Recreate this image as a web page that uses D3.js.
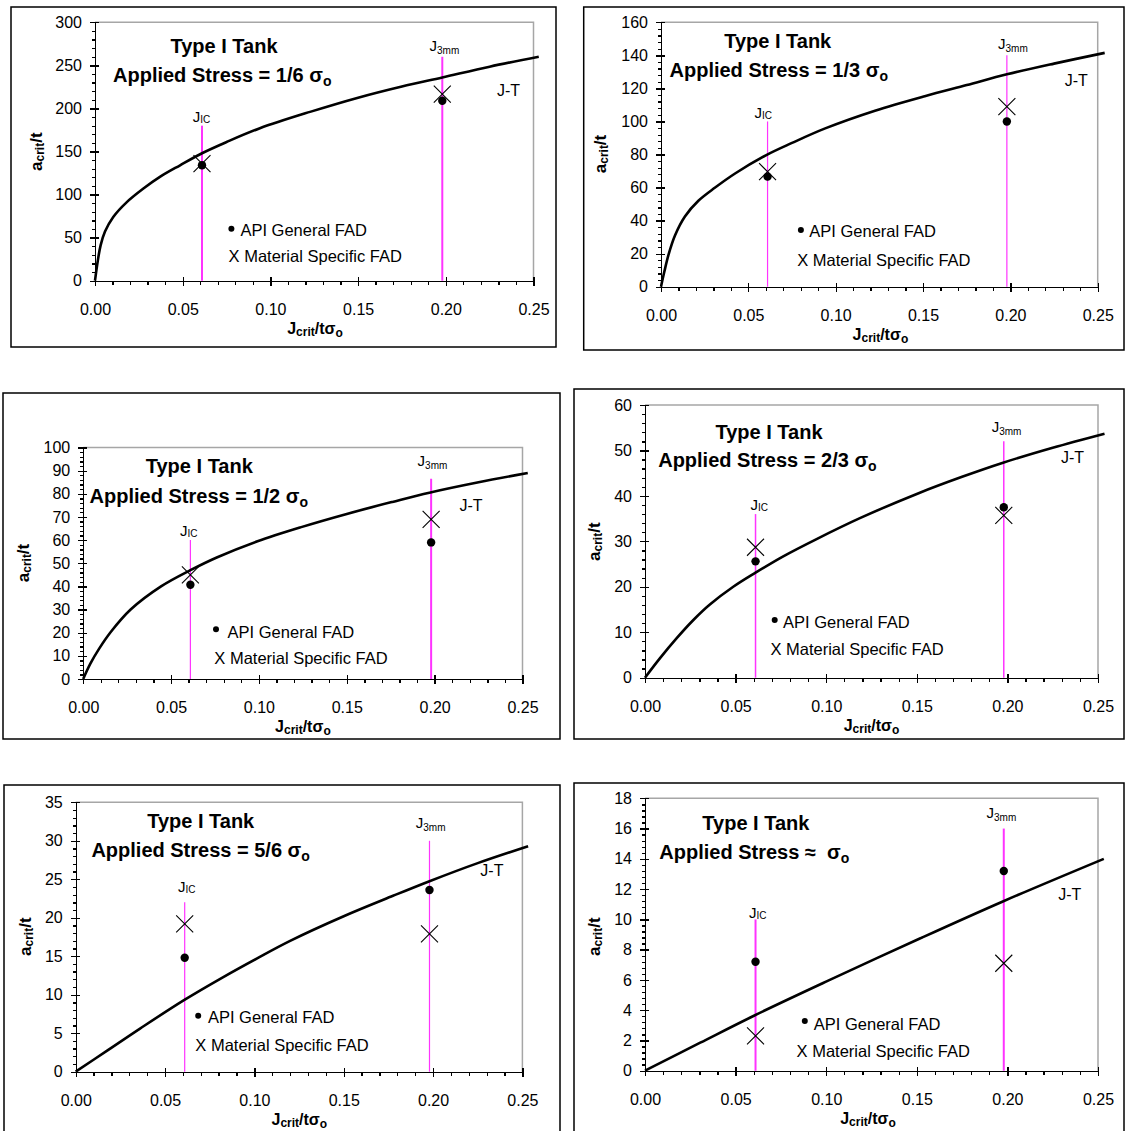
<!DOCTYPE html>
<html>
<head>
<meta charset="utf-8">
<script src="https://cdnjs.cloudflare.com/ajax/libs/d3/7.8.5/d3.min.js"></script>
<style>
  body { margin: 0; background: #ffffff; }
  text { font-family: "Liberation Sans", Arial, sans-serif; fill: #000; }
  .axis path, .axis line { stroke: #000; stroke-width: 1.3; shape-rendering: crispEdges; }
  .axis text { font-size: 16px; }
</style>
</head>
<body>
<svg id="chart" width="1125" height="1131"></svg>
<script>
// ---- data ----
var stressLabels = ["= 1/6 ", "= 1/3 ", "= 1/2 ", "= 2/3 ", "= 5/6 ", "\u2248  "];
var yMax   = [300, 160, 100, 60, 35, 18];
var yMajor = [50, 20, 10, 10, 5, 2];
var yMinor = [10, 4, 2, 2, 1, 0.4];
var xTicks = [0, 0.05, 0.10, 0.15, 0.20, 0.25];

var jicX = 0.061, j3mmX = 0.198;
var jicTop  = [180, 100, 60, 36, 22, 10];
var j3mmTop = [260, 140, 86.5, 52, 30, 16];

// [at J_IC, at J_3mm]
var apiGeneral       = [[134, 209], [66.6, 100], [40.7, 59], [25.6, 37.5], [14.8, 23.6], [7.2, 13.2]];
var materialSpecific = [[136, 216.5], [69.6, 109], [45, 69], [28.7, 35.7], [19.2, 17.9], [2.3, 7.1]];

// J-T curves [J/t sigma, a/t]
var jtCurve1 = [[0,0],[0.0015,22],[0.0032,41],[0.0057,57],[0.0104,74],[0.018,91],[0.0276,107],[0.037,120.5],[0.0485,134],[0.061,148],[0.075,161],[0.094,177],[0.1226,196],[0.15,212.5],[0.175,225.5],[0.198,236],[0.225,248.5],[0.253,260]];
var jtCurve2 = [[0,0],[0.0019,9],[0.0042,19],[0.008,31],[0.0137,42.5],[0.0214,52],[0.031,60],[0.0424,68.5],[0.06,79.5],[0.075,87],[0.094,95.8],[0.1225,106.5],[0.151,115.3],[0.175,122],[0.198,128.5],[0.225,135],[0.254,141.5]];
var jtCurve3 = [[0,0],[0.004,6.5],[0.009,13],[0.0159,20.5],[0.027,30],[0.0443,40],[0.061,47],[0.076,52.5],[0.0992,59.5],[0.1236,65.5],[0.15,71.3],[0.176,76.5],[0.197,80.5],[0.225,85],[0.253,89]];
var jtCurve4 = [[0,0],[0.0083,4.3],[0.0175,8.7],[0.0267,12.7],[0.0358,16.1],[0.0487,20],[0.061,23.1],[0.0763,26.7],[0.0947,30.5],[0.1186,35.1],[0.151,40.6],[0.175,44.2],[0.1976,47.3],[0.225,50.6],[0.2536,53.7]];
var jtCurve5 = [[0,0],[0.0174,2.7],[0.036,5.6],[0.0606,9.3],[0.0826,12.3],[0.1013,14.7],[0.12,17.0],[0.15,20.2],[0.1776,22.85],[0.198,24.75],[0.225,27.1],[0.2532,29.3]];
var jtCurve6 = [[0,0],[0.0305,1.85],[0.0604,3.65],[0.1002,5.9],[0.152,8.75],[0.1978,11.2],[0.2532,14.0]];
var jtCurves = [jtCurve1, jtCurve2, jtCurve3, jtCurve4, jtCurve5, jtCurve6];

// ---- page layout (pixels) ----
var layout = [
  {frame:[11,7,556,347], plot:[95,22.3,533.5,280.7], title:[224,52.7], stress:[113,81.7], jic:[192.7,121.7], j3mm:[429.5,51], jt:[497,96], dot:[231.4,228.7], api:[240.4,236], mat:[228.6,261.7], ylab:[36,151.7], xlab:315, lw:[2,2]},
  {frame:[583.7,7,1124,350], plot:[661,22.3,1097.7,286.7], title:[777.7,48.3], stress:[669.5,77.3], jic:[754.5,118], j3mm:[998,48.5], jt:[1064.7,86], dot:[800.9,230], api:[809.3,237.3], mat:[797.2,265.7], ylab:[600,154], xlab:880.4, lw:[1.2,1.2]},
  {frame:[3,393,560,739], plot:[83.2,447.5,522.5,679], title:[199.3,473.3], stress:[89.6,502.7], jic:[180,535.7], j3mm:[417.6,466], jt:[459.5,510.7], dot:[216,629.3], api:[227.6,637.7], mat:[214.3,664], ylab:[23.3,563], xlab:302.9, lw:[1.2,2]},
  {frame:[574,389,1124,739], plot:[645,405,1098,677.7], title:[769,439], stress:[658.2,467.3], jic:[750.6,510], j3mm:[991.7,432], jt:[1061,463.3], dot:[774.7,620], api:[783,628.3], mat:[770.4,655], ylab:[594,541.7], xlab:871.5, lw:[1.5,1.5]},
  {frame:[4,785,560,1140], plot:[75.7,802.3,522.4,1071.7], title:[200.7,828.3], stress:[91.4,856.7], jic:[178,892.3], j3mm:[415.8,828], jt:[480.3,876], dot:[198.2,1015.7], api:[207.9,1023.3], mat:[195.3,1050.7], ylab:[25,936.7], xlab:299.3, lw:[1.2,1.2]},
  {frame:[574,783,1124,1140], plot:[645,798.3,1098,1070.7], title:[755.9,830], stress:[659.3,859.3], jic:[748.9,918.3], j3mm:[986.5,818], jt:[1058.2,900], dot:[804.8,1021], api:[813.8,1030], mat:[796.6,1056.7], ylab:[594,936.7], xlab:868, lw:[2,2]}
];

var svg = d3.select("#chart");
var magenta = "#ff33ff";

function range(step, max) {
  var out = [];
  for (var k = 0; k * step <= max + 1e-9; k++) out.push(+(k * step).toFixed(4));
  return out;
}

function drawPanel(i) {
  var L = layout[i];
  var g = svg.append("g");

  g.append("rect")
    .attr("x", L.frame[0]).attr("y", L.frame[1])
    .attr("width", L.frame[2] - L.frame[0]).attr("height", L.frame[3] - L.frame[1])
    .attr("fill", "#fff").attr("stroke", "#000").attr("stroke-width", 1.5);

  var x = d3.scaleLinear().domain([0, 0.25]).range([L.plot[0], L.plot[2]]);
  var y = d3.scaleLinear().domain([0, yMax[i]]).range([L.plot[3], L.plot[1]]);

  // plot area border (top + right)
  g.append("path")
    .attr("d", "M" + x(0) + "," + y(yMax[i]) + "H" + x(0.25) + "V" + y(0))
    .attr("fill", "none").attr("stroke", "#a6a6a6").attr("stroke-width", 1.5);

  // x axis
  var xMinor = range(0.01, 0.25);
  g.append("g").attr("class", "axis").attr("transform", "translate(0," + y(0) + ")")
    .call(d3.axisBottom(x).tickValues(xMinor).tickSize(4).tickFormat(""));
  g.append("g").attr("class", "axis").attr("transform", "translate(0," + y(0) + ")")
    .call(d3.axisTop(x).tickValues(xTicks).tickSize(4).tickFormat(""));
  g.append("g").attr("class", "axis").attr("transform", "translate(0," + y(0) + ")")
    .call(d3.axisBottom(x).tickValues(xTicks).tickSize(5).tickPadding(18).tickFormat(d3.format(".2f")));

  // y axis
  g.append("g").attr("class", "axis").attr("transform", "translate(" + x(0) + ",0)")
    .call(d3.axisLeft(y).tickValues(range(yMinor[i], yMax[i])).tickSize(3).tickFormat(""));
  g.append("g").attr("class", "axis").attr("transform", "translate(" + x(0) + ",0)")
    .call(d3.axisRight(y).tickValues(range(yMajor[i], yMax[i])).tickSize(4).tickFormat(""));
  g.append("g").attr("class", "axis").attr("transform", "translate(" + x(0) + ",0)")
    .call(d3.axisLeft(y).tickValues(range(yMajor[i], yMax[i])).tickSize(5).tickPadding(8).tickFormat(d3.format("d")));

  // J_IC and J_3mm lines
  g.append("line").attr("x1", x(jicX)).attr("x2", x(jicX)).attr("y1", y(0)).attr("y2", y(jicTop[i]))
    .attr("stroke", magenta).attr("stroke-width", L.lw[0]);
  g.append("line").attr("x1", x(j3mmX)).attr("x2", x(j3mmX)).attr("y1", y(0)).attr("y2", y(j3mmTop[i]))
    .attr("stroke", magenta).attr("stroke-width", L.lw[1]);

  // J-T curve
  var line = d3.line().x(function (d) { return x(d[0]); }).y(function (d) { return y(d[1]); })
    .curve(d3.curveCatmullRom.alpha(0.5));
  g.append("path").datum(jtCurves[i]).attr("d", line)
    .attr("fill", "none").attr("stroke", "#000").attr("stroke-width", 2.6)
    .attr("stroke-linejoin", "round");

  // markers
  var xs = [jicX, j3mmX];
  xs.forEach(function (xv, k) {
    var cx = x(xv), cy = y(materialSpecific[i][k]), s = 8.5;
    g.append("path").attr("d", "M" + (cx - s) + "," + (cy - s) + "L" + (cx + s) + "," + (cy + s) +
        "M" + (cx - s) + "," + (cy + s) + "L" + (cx + s) + "," + (cy - s))
      .attr("stroke", "#000").attr("stroke-width", 1.1).attr("fill", "none");
    g.append("circle").attr("cx", cx).attr("cy", y(apiGeneral[i][k])).attr("r", 4.2).attr("fill", "#000");
  });

  // titles
  g.append("text").attr("x", L.title[0]).attr("y", L.title[1]).attr("text-anchor", "middle")
    .attr("font-size", 20).attr("font-weight", "bold").text("Type I Tank");
  var st = g.append("text").attr("x", L.stress[0]).attr("y", L.stress[1])
    .attr("font-size", 20).attr("font-weight", "bold").style("white-space", "pre");
  st.append("tspan").text("Applied Stress " + stressLabels[i] + "\u03c3");
  st.append("tspan").attr("font-size", 14).attr("dy", 4).text("o");

  // J labels
  var t1 = g.append("text").attr("x", L.jic[0]).attr("y", L.jic[1]).attr("font-size", 15);
  t1.append("tspan").text("J");
  t1.append("tspan").attr("font-size", 10).attr("dy", 1).text("IC");
  var t2 = g.append("text").attr("x", L.j3mm[0]).attr("y", L.j3mm[1]).attr("font-size", 15);
  t2.append("tspan").text("J");
  t2.append("tspan").attr("font-size", 10).attr("dy", 3).text("3mm");
  g.append("text").attr("x", L.jt[0]).attr("y", L.jt[1]).attr("font-size", 16).text("J-T");

  // legend
  g.append("circle").attr("cx", L.dot[0]).attr("cy", L.dot[1]).attr("r", 3).attr("fill", "#000");
  g.append("text").attr("x", L.api[0]).attr("y", L.api[1]).attr("font-size", 16.5).text("API General FAD");
  g.append("text").attr("x", L.mat[0]).attr("y", L.mat[1]).attr("font-size", 16.5).text("X Material Specific FAD");

  // axis titles
  var yl = g.append("text").attr("transform", "translate(" + L.ylab[0] + "," + L.ylab[1] + ") rotate(-90)")
    .attr("text-anchor", "middle").attr("dy", "0.35em").attr("font-weight", "bold").attr("font-size", 17);
  yl.append("tspan").text("a");
  yl.append("tspan").attr("font-size", 12).attr("dy", 2).text("crit");
  yl.append("tspan").attr("dy", -2).text("/t");

  var xl = g.append("text").attr("x", L.xlab).attr("y", y(0) + 53)
    .attr("text-anchor", "middle").attr("font-weight", "bold").attr("font-size", 16);
  xl.append("tspan").text("J");
  xl.append("tspan").attr("font-size", 12).attr("dy", 2).text("crit");
  xl.append("tspan").attr("dy", -2).text("/t\u03c3");
  xl.append("tspan").attr("font-size", 12).attr("dy", 3).text("o");
}

for (var p = 0; p < 6; p++) drawPanel(p);
</script>
</body>
</html>
